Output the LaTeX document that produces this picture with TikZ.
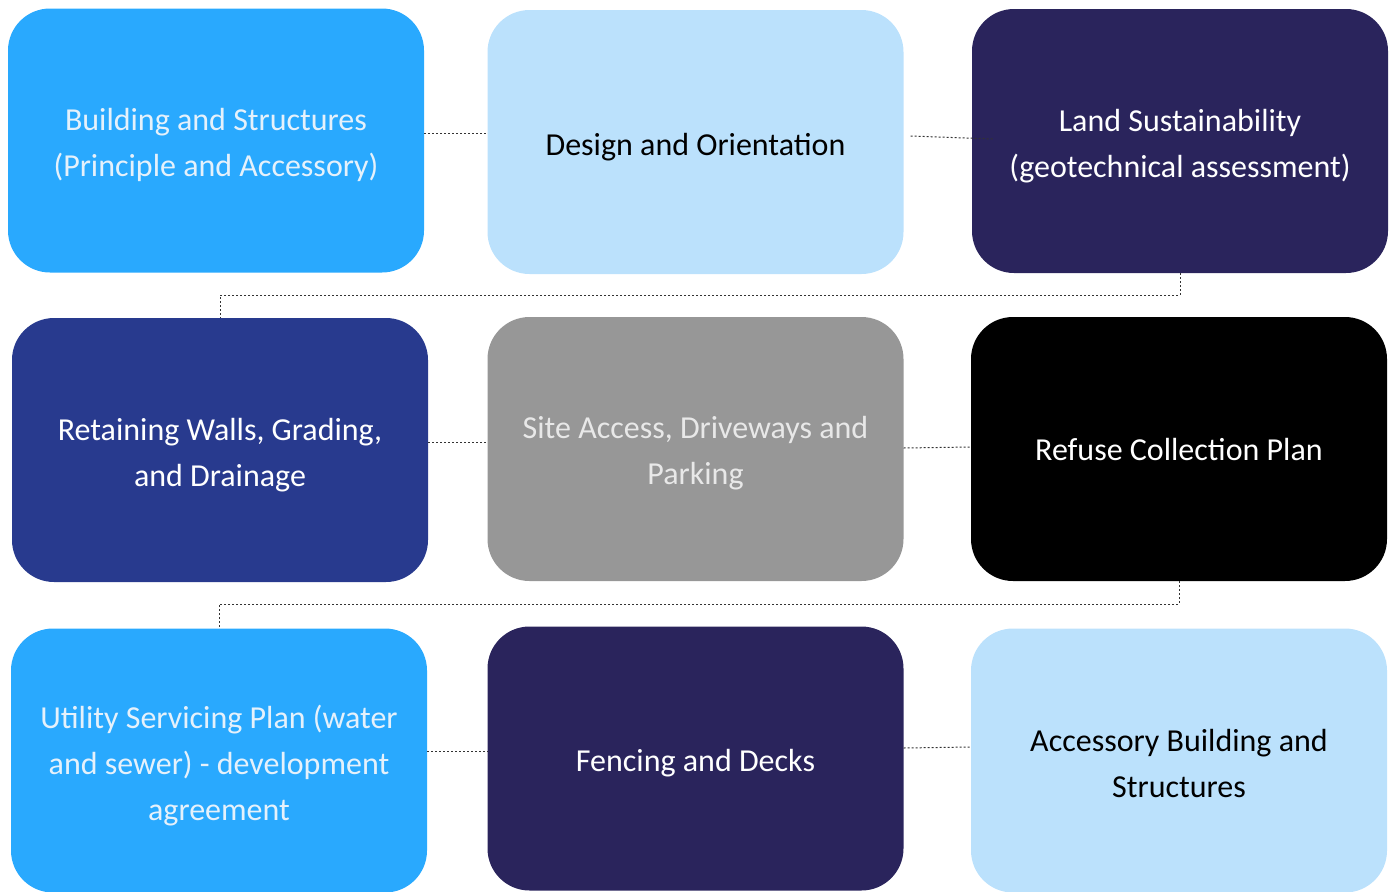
\documentclass[tikz,border=0pt]{standalone}
\usepackage{fontspec}
\setmainfont{Carlito}
\usetikzlibrary{calc}
\definecolor{bblue}{HTML}{29A9FE}
\definecolor{lblue}{HTML}{BBE1FC}
\definecolor{navy}{HTML}{2A245C}
\definecolor{royal}{HTML}{283A8E}
\definecolor{gbox}{HTML}{979797}
\definecolor{paletext}{HTML}{E5F1FB}
\definecolor{graytext}{HTML}{E8E8E8}
\newcommand{\dnbox}[2]{\raisebox{-#1pt}[\height][\depth]{\parbox{400pt}{\centering #2}}}
\tikzset{
  box/.style={rounded corners=42pt, minimum width=416pt, minimum height=264pt, inner sep=0pt, align=center,
    font=\fontsize{32}{46}\selectfont},
  conn/.style={draw=black!80, line width=1pt, dash pattern=on 2pt off 2pt},
}
\begin{document}
\begin{tikzpicture}[x=1pt,y=-1pt]
\useasboundingbox (0,0) rectangle (1393,892);
\node[box, fill=bblue, text=paletext] (A) at (216,140.5) {\dnbox{4}{Building and Structures\\(Principle and Accessory)}};
\node[box, fill=lblue, text=black] (B) at (695.5,142) {\dnbox{5}{Design and Orientation}};
\node[box, fill=navy, text=white] (C) at (1180,141) {\dnbox{5}{Land Sustainability\\(geotechnical assessment)}};
\node[box, fill=royal, text=white] (D) at (220,450) {\dnbox{5}{Retaining Walls, Grading,\\and Drainage}};
\node[box, fill=gbox, text=graytext] (E) at (695.5,449) {\dnbox{4}{Site Access, Driveways and\\Parking}};
\node[box, fill=black, text=white] (F) at (1179,449) {\dnbox{1}{Refuse Collection Plan}};
\node[box, fill=bblue, text=paletext] (G) at (219,760.5) {\dnbox{5}{Utility Servicing Plan (water\\and sewer) - development\\agreement}};
\node[box, fill=navy, text=white] (H) at (695.5,758.5) {\dnbox{5}{Fencing and Decks}};
\node[box, fill=lblue, text=black] (I) at (1179,760.5) {\dnbox{3}{Accessory Building and\\Structures}};
\draw[conn] ([yshift=7.5pt]A.east) -- ([yshift=9pt]B.west);
\draw[conn] ([xshift=7pt,yshift=6pt]B.east) -- ([xshift=21pt,yshift=2pt]C.west);
\draw[conn] (C.south) -- ++(0,22) -| (D.north);
\draw[conn] ([yshift=8pt]D.east) -- ([yshift=7pt]E.west);
\draw[conn] ([yshift=1pt]E.east) -- ([yshift=2pt]F.west);
\draw[conn] (F.south) -- ++(0,23) -| (G.north);
\draw[conn] ([yshift=9.5pt]G.east) -- ([yshift=7.5pt]H.west);
\draw[conn] ([yshift=10.5pt]H.east) -- ([yshift=13.5pt]I.west);
\end{tikzpicture}
\end{document}
